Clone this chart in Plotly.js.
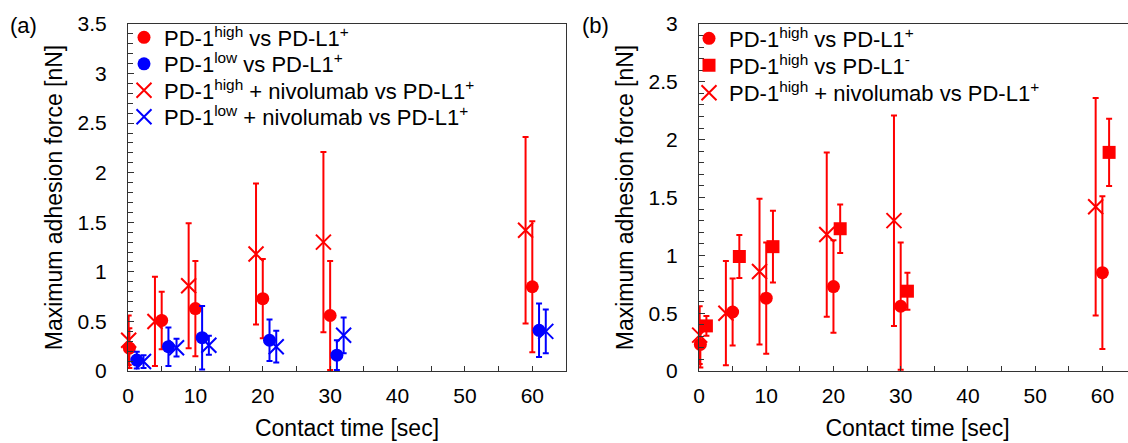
<!DOCTYPE html>
<html>
<head>
<meta charset="utf-8">
<script src="https://cdn.plot.ly/plotly-3.0.1.min.js"></script>
<style>
  html, body { margin: 0; padding: 0; overflow: hidden; background: #fff; }
  #chart { width: 1140px; height: 443px; }
</style>
</head>
<body>
<div id="chart"></div>
<script>
// ---------------- Data ----------------
// Contact times (sec) for each series, slightly offset as in the original figure
const timeHighNivo = [0.1, 4, 9, 19, 29, 59];
const timeHigh     = [0.2, 5, 10, 20, 30, 60];
const timeLow      = [1.3, 6, 11, 21, 31, 61];
const timeLowNivo  = [2.3, 7.2, 12, 22, 32, 62];
const timeNeg      = [1.1, 6, 11, 21, 31, 61];

// Maximum adhesion force [nN] (mean) and SD
const highVal     = [0.23, 0.51, 0.63, 0.73, 0.56, 0.85];
const highSd      = [0.20, 0.29, 0.48, 0.40, 0.55, 0.66];
const lowVal      = [0.11, 0.245, 0.336, 0.31, 0.16, 0.41];
const lowSd       = [0.085, 0.195, 0.32, 0.21, 0.15, 0.27];
const highNivoVal = [0.31, 0.50, 0.86, 1.18, 1.30, 1.42];
const highNivoSd  = [0.25, 0.45, 0.63, 0.71, 0.91, 0.94];
const lowNivoVal  = [0.095, 0.235, 0.26, 0.245, 0.36, 0.40];
const lowNivoSd   = [0.065, 0.09, 0.095, 0.16, 0.18, 0.22];
const negVal      = [0.39, 0.99, 1.075, 1.23, 0.69, 1.89];
const negSd       = [0.085, 0.185, 0.31, 0.21, 0.16, 0.29];

const nameHigh     = 'PD-1<sup>high</sup> vs PD-L1<sup>+</sup>';
const nameLow      = 'PD-1<sup>low</sup> vs PD-L1<sup>+</sup>';
const nameHighNivo = 'PD-1<sup>high</sup> + nivolumab vs PD-L1<sup>+</sup>';
const nameLowNivo  = 'PD-1<sup>low</sup> + nivolumab vs PD-L1<sup>+</sup>';
const nameNeg      = 'PD-1<sup>high</sup> vs PD-L1<sup>-</sup>';

const RED = '#ff0000', BLUE = '#0000ff';
const FONT = '"Liberation Sans", Arial, sans-serif';

function err(sd, color) {
  return { type: 'data', array: sd, visible: true, color: color, thickness: 2, width: 3 };
}
function mk(symbol, color, size) {
  if (symbol.indexOf('x') === 0) {
    return { symbol: symbol, size: size, color: color, line: { color: color, width: 2 } };
  }
  return { symbol: symbol, size: size, color: color };
}
function tr(x, y, sd, name, symbol, color, size, xa, ya, legend) {
  return {
    type: 'scatter', mode: 'markers', x: x, y: y, name: name,
    error_y: err(sd, color), marker: mk(symbol, color, size),
    xaxis: xa, yaxis: ya, legend: legend, cliponaxis: false,
    hoverinfo: 'x+y'
  };
}

const data = [
  // Panel (a)
  tr(timeHighNivo, highNivoVal, highNivoSd, nameHighNivo, 'x-thin-open', RED, 15, 'x', 'y', 'legend3'),
  tr(timeHigh, highVal, highSd, nameHigh, 'circle', RED, 13, 'x', 'y', 'legend'),
  tr(timeLow, lowVal, lowSd, nameLow, 'circle', BLUE, 13, 'x', 'y', 'legend2'),
  tr(timeLowNivo, lowNivoVal, lowNivoSd, nameLowNivo, 'x-thin-open', BLUE, 15, 'x', 'y', 'legend4'),
  // Panel (b)
  tr(timeHighNivo, highNivoVal, highNivoSd, nameHighNivo, 'x-thin-open', RED, 15, 'x2', 'y2', 'legend7'),
  tr(timeHigh, highVal, highSd, nameHigh, 'circle', RED, 13, 'x2', 'y2', 'legend5'),
  tr(timeNeg, negVal, negSd, nameNeg, 'square', RED, 13, 'x2', 'y2', 'legend6')
];

const W = 1140, H = 443;
const yDom = [1 - 371 / H, 1 - 24 / H];

function xAxis(domain, anchor) {
  return {
    domain: domain, anchor: anchor, range: [0, 65], dtick: 10, tick0: 0,
    ticks: 'inside', ticklen: 5, tickwidth: 1, tickcolor: '#333',
    minor: { dtick: 5, ticks: 'inside', ticklen: 5, tickwidth: 1, tickcolor: '#333' },
    showline: true, linecolor: '#333', linewidth: 1, mirror: true,
    showgrid: false, zeroline: false, ticklabelstandoff: 6,
    tickfont: { family: FONT, size: 21, color: '#000' },
    title: { text: 'Contact time [sec]', font: { family: FONT, size: 23, color: '#000' }, standoff: 13 },
    fixedrange: true
  };
}
function yAxis(range, anchor) {
  return {
    domain: yDom, anchor: anchor, range: range, dtick: 0.5, tick0: 0,
    ticks: 'inside', ticklen: 6, tickwidth: 1, tickcolor: '#333',
    minor: { dtick: 0.1, ticks: 'inside', ticklen: 5, tickwidth: 1, tickcolor: '#333' },
    showline: true, linecolor: '#333', linewidth: 1, mirror: true,
    showgrid: false, zeroline: false, ticklabelstandoff: 16,
    tickfont: { family: FONT, size: 21, color: '#000' },
    title: { text: 'Maximum adhesion force [nN]', font: { family: FONT, size: 23, color: '#000' }, standoff: 8 },
    fixedrange: true
  };
}

// One legend box per row so the rows sit at the reference spacing
function leg(xPx, yPx) {
  return {
    x: xPx / W, y: 1 - yPx / H, xanchor: 'left', yanchor: 'middle',
    bgcolor: 'rgba(0,0,0,0)', borderwidth: 0, itemwidth: 30,
    font: { family: FONT, size: 22, color: '#000' }
  };
}
const legAx = 124, legBx = 689;

const layout = {
  width: W, height: H,
  margin: { l: 0, r: 0, t: 0, b: 0, pad: 0 },
  paper_bgcolor: '#fff', plot_bgcolor: '#fff',
  showlegend: true,
  xaxis: xAxis([128 / W, 566 / W], 'y'),
  yaxis: yAxis([0, 3.5], 'x'),
  xaxis2: xAxis([699 / W, 1136 / W], 'y2'),
  yaxis2: yAxis([0, 3], 'x2'),
  legend:  leg(legAx, 37.5),
  legend2: leg(legAx, 64),
  legend3: leg(legAx, 90.5),
  legend4: leg(legAx, 117),
  legend5: leg(legBx, 38.5),
  legend6: leg(legBx, 65.5),
  legend7: leg(legBx, 93),
  annotations: [
    { text: '(a)', xref: 'paper', yref: 'paper', x: 8 / W, y: 1 - 25 / H, xanchor: 'left', yanchor: 'middle',
      showarrow: false, font: { family: FONT, size: 22, color: '#000' } },
    { text: '(b)', xref: 'paper', yref: 'paper', x: 580 / W, y: 1 - 25 / H, xanchor: 'left', yanchor: 'middle',
      showarrow: false, font: { family: FONT, size: 22, color: '#000' } }
  ]
};

Plotly.newPlot('chart', data, layout, { displayModeBar: false, staticPlot: true });
</script>
</body>
</html>
